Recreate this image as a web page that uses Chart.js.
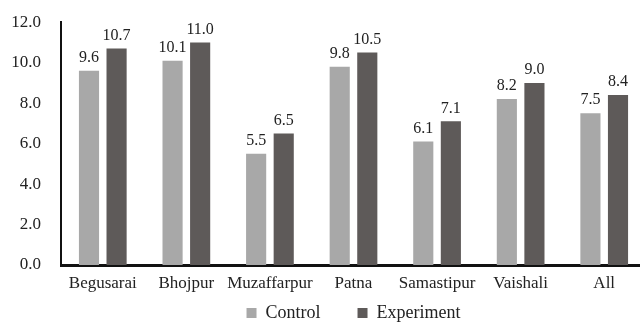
<!DOCTYPE html>
<html>
<head>
<meta charset="utf-8">
<script src="https://cdn.jsdelivr.net/npm/chart.js@4"></script>
<style>
    html, body { margin: 0; padding: 0; background: #fff; overflow: hidden; }
    #wrap { width: 646px; height: 332px; }
</style>
</head>
<body>
<div id="wrap"><canvas id="chart"></canvas></div>
<script>
const districts = ["Begusarai", "Bhojpur", "Muzaffarpur", "Patna", "Samastipur", "Vaishali", "All"];
const controlValues = [9.6, 10.1, 5.5, 9.8, 6.1, 8.2, 7.5];
const experimentValues = [10.7, 11.0, 6.5, 10.5, 7.1, 9.0, 8.4];
const yTicks = [0, 2, 4, 6, 8, 10, 12];

const serif = "Liberation Serif";
Chart.defaults.font.family = serif;
Chart.defaults.color = "#222";

// writes each bar's value just above it
const valueLabels = {
    id: "valueLabels",
    afterDatasetsDraw(chart) {
        const ctx = chart.ctx;
        ctx.save();
        ctx.font = "16px " + serif;
        ctx.fillStyle = "#222";
        ctx.textAlign = "center";
        ctx.textBaseline = "bottom";
        chart.data.datasets.forEach((ds, i) => {
            chart.getDatasetMeta(i).data.forEach((bar, j) => {
                ctx.fillText(ds.data[j].toFixed(1), bar.x, bar.y - 5);
            });
        });
        ctx.restore();
    }
};

new Chart(document.getElementById("chart"), {
    type: "bar",
    data: {
        labels: districts,
        datasets: [{
            label: "Control",
            data: controlValues,
            backgroundColor: "#a8a8a8",
            barPercentage: 0.73,
            categoryPercentage: 0.66
        }, {
            label: "Experiment",
            data: experimentValues,
            backgroundColor: "#5e5a59",
            barPercentage: 0.73,
            categoryPercentage: 0.66
        }]
    },
    options: {
        responsive: true,
        maintainAspectRatio: false,
        animation: false,
        layout: { padding: { top: 20, right: 0, left: 0, bottom: 0 } },
        plugins: {
            tooltip: { enabled: false },
            legend: {
                position: "bottom",
                fullSize: false,
                labels: {
                    boxWidth: 10,
                    boxHeight: 10,
                    padding: 10,
                    font: { family: serif, size: 18 },
                    // wider gap after the first entry
                    generateLabels(chart) {
                        const items = Chart.defaults.plugins.legend.labels.generateLabels(chart);
                        items[0].text += "      ";
                        return items;
                    }
                }
            }
        },
        scales: {
            x: {
                grid: { display: false },
                border: { display: true, color: "#111", width: 3 },
                ticks: {
                    padding: 0,
                    autoSkip: false,
                    maxRotation: 0,
                    font: { family: serif, size: 17 }
                },
                afterFit(scale) { scale.height = 29; }
            },
            y: {
                min: 0,
                max: 12,
                grid: { display: false },
                border: { display: true, color: "#111", width: 2 },
                afterBuildTicks(scale) {
                    scale.ticks = yTicks.map(v => ({ value: v }));
                },
                ticks: {
                    padding: 12,
                    font: { family: serif, size: 17 },
                    callback: v => v.toFixed(1)
                },
                afterFit(scale) { scale.width = 61; }
            }
        }
    },
    plugins: [valueLabels]
});
</script>
</body>
</html>
